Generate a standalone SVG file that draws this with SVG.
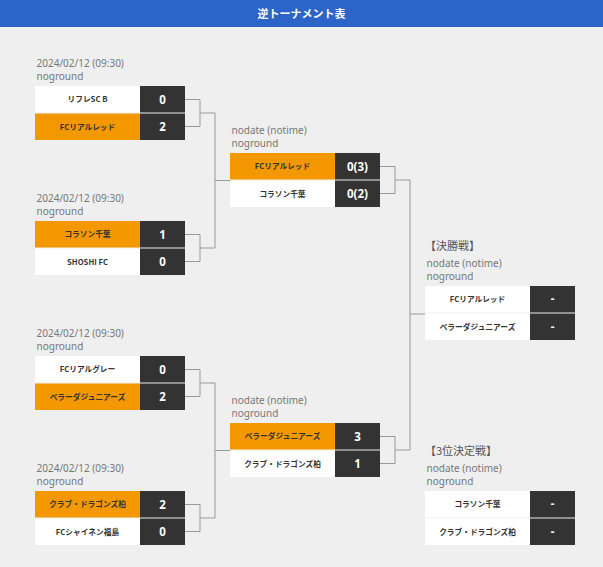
<svg xmlns="http://www.w3.org/2000/svg" width="603" height="567" viewBox="0 0 603 567">
<style>
.bg{fill:#efefef}
.hdr{fill:#2c64c7}
.title{font-family:"Noto Sans CJK JP","Noto Sans",sans-serif;font-size:11px;font-weight:bold;fill:#fff;text-anchor:middle}
.info{font-family:"Noto Sans","Noto Sans CJK JP",sans-serif;font-size:10px;fill:#777}
.rnd{font-family:"Noto Sans CJK JP",sans-serif;font-size:11px;fill:#555}
.nm{fill:#fff}
.win{fill:#f39800}
.sc{fill:#333}
.tn{font-family:"Noto Sans CJK JP","Noto Sans",sans-serif;font-size:7.7px;font-weight:bold;fill:#333;text-anchor:middle}
.sv{font-family:"Noto Sans","DejaVu Sans",sans-serif;font-size:11.5px;font-weight:bold;fill:#fff;text-anchor:middle}
.ln{fill:none;stroke:#999;stroke-width:1}
</style>
<rect class="bg" x="0" y="0" width="603" height="567"/>
<rect class="hdr" x="0" y="0" width="603" height="27"/>
<text class="title" x="301.5" y="17.5">逆トーナメント表</text>

<g id="connectors">
<path class="ln" d="M185 99.5H200V126.5H185M200 113H215M215 113V248M215 180.5H230M185 234.5H200V261.5H185M200 248H215"/>
<path class="ln" d="M185 369.5H200V396.5H185M200 383H215M215 383V518M215 450.5H230M185 504.5H200V531.5H185M200 518H215"/>
<path class="ln" d="M380 166.5H395V193.5H380M395 180H410M410 180V450M410 314H425M380 436.5H395V463.5H380M395 450H410"/>
</g>

<g id="m1">
<text class="info" x="36.5" y="67">2024/02/12 (09:30)</text>
<text class="info" x="36.5" y="80">noground</text>
<rect class="nm" x="35" y="86" width="105" height="26.5"/><rect class="sc" x="140" y="86" width="45" height="26.5"/>
<rect class="win" x="35" y="113.5" width="105" height="26.5"/><rect class="sc" x="140" y="113.5" width="45" height="26.5"/>
<text class="tn" x="87.5" y="102">リフレSC B</text><text class="sv" x="162.5" y="103.5">0</text>
<text class="tn" x="87.5" y="129.5">FCリアルレッド</text><text class="sv" x="162.5" y="131">2</text>
</g>

<g id="m2">
<text class="info" x="36.5" y="202">2024/02/12 (09:30)</text>
<text class="info" x="36.5" y="215">noground</text>
<rect class="win" x="35" y="221" width="105" height="26.5"/><rect class="sc" x="140" y="221" width="45" height="26.5"/>
<rect class="nm" x="35" y="248.5" width="105" height="26.5"/><rect class="sc" x="140" y="248.5" width="45" height="26.5"/>
<text class="tn" x="87.5" y="237">コラソン千葉</text><text class="sv" x="162.5" y="238.5">1</text>
<text class="tn" x="87.5" y="264.5">SHOSHI FC</text><text class="sv" x="162.5" y="266">0</text>
</g>

<g id="m3">
<text class="info" x="36.5" y="337">2024/02/12 (09:30)</text>
<text class="info" x="36.5" y="350">noground</text>
<rect class="nm" x="35" y="356" width="105" height="26.5"/><rect class="sc" x="140" y="356" width="45" height="26.5"/>
<rect class="win" x="35" y="383.5" width="105" height="26.5"/><rect class="sc" x="140" y="383.5" width="45" height="26.5"/>
<text class="tn" x="87.5" y="372">FCリアルグレー</text><text class="sv" x="162.5" y="373.5">0</text>
<text class="tn" x="87.5" y="399.5">ベラーダジュニアーズ</text><text class="sv" x="162.5" y="401">2</text>
</g>

<g id="m4">
<text class="info" x="36.5" y="472">2024/02/12 (09:30)</text>
<text class="info" x="36.5" y="485">noground</text>
<rect class="win" x="35" y="491" width="105" height="26.5"/><rect class="sc" x="140" y="491" width="45" height="26.5"/>
<rect class="nm" x="35" y="518.5" width="105" height="26.5"/><rect class="sc" x="140" y="518.5" width="45" height="26.5"/>
<text class="tn" x="87.5" y="507">クラブ・ドラゴンズ柏</text><text class="sv" x="162.5" y="508.5">2</text>
<text class="tn" x="87.5" y="534.5">FCシャイネン福島</text><text class="sv" x="162.5" y="536">0</text>
</g>

<g id="semi1">
<text class="info" x="231.5" y="134">nodate (notime)</text>
<text class="info" x="231.5" y="147">noground</text>
<rect class="win" x="230" y="153" width="105" height="26.5"/><rect class="sc" x="335" y="153" width="45" height="26.5"/>
<rect class="nm" x="230" y="180.5" width="105" height="26.5"/><rect class="sc" x="335" y="180.5" width="45" height="26.5"/>
<text class="tn" x="282.5" y="169">FCリアルレッド</text><text class="sv" x="357.5" y="170.5">0(3)</text>
<text class="tn" x="282.5" y="196.5">コラソン千葉</text><text class="sv" x="357.5" y="198">0(2)</text>
</g>

<g id="semi2">
<text class="info" x="231.5" y="404">nodate (notime)</text>
<text class="info" x="231.5" y="417">noground</text>
<rect class="win" x="230" y="423" width="105" height="26.5"/><rect class="sc" x="335" y="423" width="45" height="26.5"/>
<rect class="nm" x="230" y="450.5" width="105" height="26.5"/><rect class="sc" x="335" y="450.5" width="45" height="26.5"/>
<text class="tn" x="282.5" y="439">ベラーダジュニアーズ</text><text class="sv" x="357.5" y="440.5">3</text>
<text class="tn" x="282.5" y="466.5">クラブ・ドラゴンズ柏</text><text class="sv" x="357.5" y="468">1</text>
</g>

<g id="final">
<text class="rnd" x="425" y="249.5">【決勝戦】</text>
<text class="info" x="426.5" y="267">nodate (notime)</text>
<text class="info" x="426.5" y="280">noground</text>
<rect class="nm" x="425" y="286" width="105" height="26.5"/><rect class="sc" x="530" y="286" width="45" height="26.5"/>
<rect class="nm" x="425" y="313.5" width="105" height="26.5"/><rect class="sc" x="530" y="313.5" width="45" height="26.5"/>
<text class="tn" x="477.5" y="302">FCリアルレッド</text><text class="sv" x="552.5" y="303">-</text>
<text class="tn" x="477.5" y="329.5">ベラーダジュニアーズ</text><text class="sv" x="552.5" y="330.5">-</text>
</g>

<g id="third">
<text class="rnd" x="425" y="454.5">【3位決定戦】</text>
<text class="info" x="426.5" y="472">nodate (notime)</text>
<text class="info" x="426.5" y="485">noground</text>
<rect class="nm" x="425" y="491" width="105" height="26.5"/><rect class="sc" x="530" y="491" width="45" height="26.5"/>
<rect class="nm" x="425" y="518.5" width="105" height="26.5"/><rect class="sc" x="530" y="518.5" width="45" height="26.5"/>
<text class="tn" x="477.5" y="507">コラソン千葉</text><text class="sv" x="552.5" y="508">-</text>
<text class="tn" x="477.5" y="534.5">クラブ・ドラゴンズ柏</text><text class="sv" x="552.5" y="535.5">-</text>
</g>
</svg>
